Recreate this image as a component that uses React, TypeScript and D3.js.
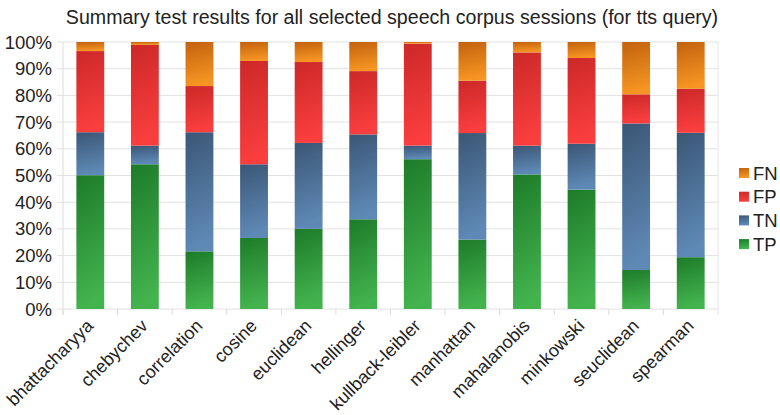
import React from "react";
import * as d3 from "d3";

const categories = [
  "bhattacharyya", "chebychev", "correlation", "cosine", "euclidean", "hellinger",
  "kullback-leibler", "manhattan", "mahalanobis", "minkowski", "seuclidean", "spearman",
];
// Percentages per session measure (stacked bottom to top: TP, TN, FP, FN)
const tp = [50.1, 54.2, 21.6, 26.6, 30.0, 33.6, 56.1, 26.0, 50.4, 44.7, 14.6, 19.4];
const tn = [16.1, 7.0, 44.6, 27.6, 32.2, 31.8, 5.1, 39.9, 10.8, 17.2, 54.9, 46.6];
const fp = [30.4, 37.7, 17.3, 38.7, 30.3, 23.7, 38.2, 19.6, 34.9, 32.1, 10.9, 16.5];
const fn = [3.4, 1.1, 16.5, 7.1, 7.5, 10.9, 0.6, 14.5, 3.9, 6.0, 19.6, 17.5];
const yTicks = [0, 10, 20, 30, 40, 50, 60, 70, 80, 90, 100];
const seriesKeys = ["TP", "TN", "FP", "FN"];
const legendOrder = ["FN", "FP", "TN", "TP"];

const gradients: Record<string, [string, string]> = {
  TP: ["#1d7b29", "#43b34e"],
  TN: ["#3b5675", "#5e89b6"],
  FP: ["#cc2828", "#fa3e3e"],
  FN: ["#c2620e", "#f69522"],
};

const W = 780;
const H = 415;
const margin = { left: 63, right: 62, top: 42, bottom: 106 };
const font = "'Liberation Sans', Arial, sans-serif";

export default function App() {
  const rows = categories.map((c, i) => ({ name: c, TP: tp[i], TN: tn[i], FP: fp[i], FN: fn[i] }));
  const stack = d3.stack<any>().keys(seriesKeys)(rows);

  const x = d3
    .scaleBand()
    .domain(categories)
    .range([margin.left, W - margin.right])
    .paddingInner(0.49)
    .paddingOuter(0.245);
  const y = d3.scaleLinear().domain([0, 100]).range([H - margin.bottom, margin.top]);
  const band = (W - margin.left - margin.right) / categories.length;

  return (
    <svg
      width={W}
      height={H}
      style={{ position: "absolute", left: 0, top: 0, background: "#fff" }}
      fontFamily={font}
    >
      <defs>
        {seriesKeys.map((k) => (
          <linearGradient key={k} id={`g-${k}`} x1="0" y1="0" x2="0.15" y2="1">
            <stop offset="0" stopColor={gradients[k][0]} />
            <stop offset="1" stopColor={gradients[k][1]} />
          </linearGradient>
        ))}
      </defs>

      <text x={392} y={24} textAnchor="middle" fontSize={19.6} fill="#222">
        Summary test results for all selected speech corpus sessions (for tts query)
      </text>

      {/* grid */}
      {yTicks.map((t) => (
        <line
          key={t}
          x1={margin.left - 6}
          x2={W - margin.right}
          y1={y(t)}
          y2={y(t)}
          stroke="#e2e2e2"
          strokeWidth={1}
        />
      ))}
      <line x1={margin.left} x2={margin.left} y1={y(100)} y2={y(0) + 6} stroke="#dcdcdc" />
      <line x1={W - margin.right} x2={W - margin.right} y1={y(100)} y2={y(0) + 6} stroke="#e6e6e6" />
      {categories.map((c, i) => (
        <line
          key={c}
          x1={margin.left + band * i}
          x2={margin.left + band * i}
          y1={y(0)}
          y2={y(0) + 6}
          stroke="#dcdcdc"
        />
      ))}

      {yTicks.map((t) => (
        <text
          key={t}
          x={52}
          y={y(t) + 6.5}
          textAnchor="end"
          fontSize={18.5}
          fill="#222"
        >
          {t}%
        </text>
      ))}

      {/* bars */}
      {stack.map((s) => (
        <g key={s.key}>
          {s.map((d, i) => (
            <rect
              key={i}
              x={x(categories[i])}
              width={x.bandwidth()}
              y={y(d[1])}
              height={y(d[0]) - y(d[1])}
              fill={`url(#g-${s.key})`}
            />
          ))}
        </g>
      ))}

      {/* category labels */}
      {categories.map((c) => {
        const cx = (x(c) as number) + x.bandwidth() / 2 + 4;
        const cy = y(0) + 18;
        return (
          <text
            key={c}
            transform={`translate(${cx},${cy}) rotate(-45)`}
            textAnchor="end"
            fontSize={18}
            fill="#222"
          >
            {c}
          </text>
        );
      })}

      {/* legend */}
      {legendOrder.map((k, i) => {
        const ly = 173 + i * 23.7;
        return (
          <g key={k}>
            <rect x={739} y={ly - 5} width={10} height={10} fill={`url(#g-${k})`} />
            <text x={753} y={ly + 6.5} fontSize={18.5} fill="#222">
              {k}
            </text>
          </g>
        );
      })}
    </svg>
  );
}
